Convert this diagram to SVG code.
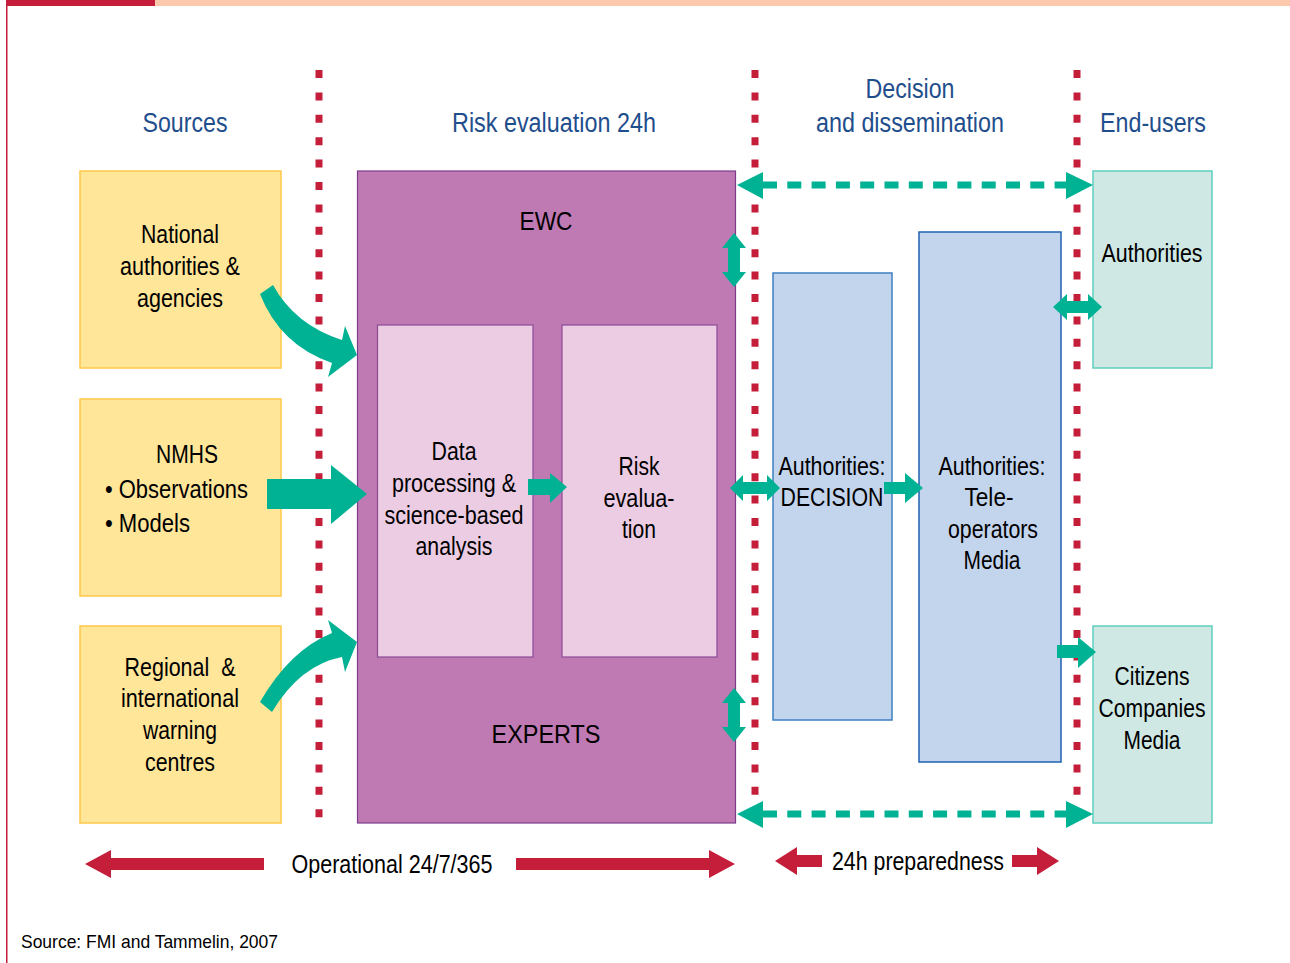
<svg xmlns="http://www.w3.org/2000/svg" width="1290" height="963" viewBox="0 0 1290 963">
<style>
text{font-family:"Liberation Sans",Arial,sans-serif;fill:#000;}
.h{font-size:27px;fill:#1F4E8C;text-anchor:middle;}
.t{font-size:26px;text-anchor:middle;}
.l{font-size:26px;}
.src{fill:#FFE699;stroke:#FFC84A;stroke-width:1.5;}
.dot{stroke:#C41E3A;stroke-width:7;stroke-dasharray:8 14.4;fill:none;}
.tl{fill:#00B294;}
.rd{fill:#C41E3A;}
.dash{stroke:#00B294;stroke-width:7;stroke-dasharray:14 10.3;fill:none;}
</style>
<rect x="0" y="0" width="1290" height="963" fill="#fff"/>
<rect x="6" y="0" width="149" height="6" fill="#C41E3A"/>
<rect x="155" y="0" width="1135" height="6" fill="#FDC9AC"/>
<rect x="6" y="0" width="1.5" height="963" fill="#C41E3A"/>

<g id="dividers">
<line class="dot" x1="319" y1="70" x2="319" y2="826"/>
<line class="dot" x1="755" y1="70" x2="755" y2="826"/>
<line class="dot" x1="1077" y1="70" x2="1077" y2="826"/>
</g>

<g id="headers">
<text class="h" x="185" y="132" textLength="85" lengthAdjust="spacingAndGlyphs">Sources</text>
<text class="h" x="554" y="132" textLength="204" lengthAdjust="spacingAndGlyphs">Risk evaluation 24h</text>
<text class="h" x="910" y="98" textLength="89" lengthAdjust="spacingAndGlyphs">Decision</text>
<text class="h" x="910" y="132" textLength="188" lengthAdjust="spacingAndGlyphs">and dissemination</text>
<text class="h" x="1153" y="132" textLength="106" lengthAdjust="spacingAndGlyphs">End-users</text>
</g>

<g id="src1">
<rect class="src" x="80" y="171" width="201" height="197"/>
<text class="t" x="180" y="243" textLength="78" lengthAdjust="spacingAndGlyphs">National</text>
<text class="t" x="180" y="275" textLength="120" lengthAdjust="spacingAndGlyphs">authorities &amp;</text>
<text class="t" x="180" y="307" textLength="86" lengthAdjust="spacingAndGlyphs">agencies</text>
</g>
<g id="src2">
<rect class="src" x="80" y="399" width="201" height="197"/>
<text class="t" x="187" y="463" textLength="62" lengthAdjust="spacingAndGlyphs">NMHS</text>
<text class="l" x="105" y="498" textLength="143" lengthAdjust="spacingAndGlyphs">• Observations</text>
<text class="l" x="105" y="532" textLength="85" lengthAdjust="spacingAndGlyphs">• Models</text>
</g>
<g id="src3">
<rect class="src" x="80" y="626" width="201" height="197"/>
<text class="t" x="180" y="676" textLength="111" lengthAdjust="spacingAndGlyphs">Regional&#160; &amp;</text>
<text class="t" x="180" y="707" textLength="118" lengthAdjust="spacingAndGlyphs">international</text>
<text class="t" x="180" y="739" textLength="74" lengthAdjust="spacingAndGlyphs">warning</text>
<text class="t" x="180" y="771" textLength="70" lengthAdjust="spacingAndGlyphs">centres</text>
</g>

<g id="ewc">
<rect x="357.5" y="171" width="378" height="652" fill="#C07AB3" stroke="#7C3A8A" stroke-width="1.2"/>
<text class="t" x="546" y="230" textLength="53" lengthAdjust="spacingAndGlyphs">EWC</text>
<text class="t" x="546" y="743" textLength="109" lengthAdjust="spacingAndGlyphs">EXPERTS</text>
</g>
<g id="data">
<rect x="377.5" y="325" width="155.5" height="332" fill="#EBCCE3" stroke="#8A4A96" stroke-width="1.2"/>
<text class="t" x="454" y="460" textLength="45" lengthAdjust="spacingAndGlyphs">Data</text>
<text class="t" x="454" y="492" textLength="124" lengthAdjust="spacingAndGlyphs">processing &amp;</text>
<text class="t" x="454" y="524" textLength="139" lengthAdjust="spacingAndGlyphs">science-based</text>
<text class="t" x="454" y="555" textLength="77" lengthAdjust="spacingAndGlyphs">analysis</text>
</g>
<g id="riskeval">
<rect x="562" y="325" width="155" height="332" fill="#EBCCE3" stroke="#8A4A96" stroke-width="1.2"/>
<text class="t" x="639" y="475" textLength="41" lengthAdjust="spacingAndGlyphs">Risk</text>
<text class="t" x="639" y="507" textLength="71" lengthAdjust="spacingAndGlyphs">evalua-</text>
<text class="t" x="639" y="538" textLength="34" lengthAdjust="spacingAndGlyphs">tion</text>
</g>

<g id="decision">
<rect x="773" y="273" width="119" height="447" fill="#C3D4ED" stroke="#3E7FC1" stroke-width="1.5"/>
<text class="t" x="832" y="475" textLength="107" lengthAdjust="spacingAndGlyphs">Authorities:</text>
<text class="t" x="832" y="506" textLength="103" lengthAdjust="spacingAndGlyphs">DECISION</text>
</g>
<g id="teleop">
<rect x="919" y="232" width="142" height="530" fill="#C3D4ED" stroke="#1F63B0" stroke-width="1.5"/>
<text class="t" x="992" y="475" textLength="107" lengthAdjust="spacingAndGlyphs">Authorities:</text>
<text class="t" x="989" y="506" textLength="49" lengthAdjust="spacingAndGlyphs">Tele-</text>
<text class="t" x="993" y="538" textLength="90" lengthAdjust="spacingAndGlyphs">operators</text>
<text class="t" x="992" y="569" textLength="57" lengthAdjust="spacingAndGlyphs">Media</text>
</g>

<g id="authorities">
<rect x="1093" y="171" width="119" height="197" fill="#CFE8E4" stroke="#5FD0BE" stroke-width="1.5"/>
<text class="t" x="1152" y="262" textLength="101" lengthAdjust="spacingAndGlyphs">Authorities</text>
</g>
<g id="citizens">
<rect x="1093" y="626" width="119" height="197" fill="#CFE8E4" stroke="#5FD0BE" stroke-width="1.5"/>
<text class="t" x="1152" y="685" textLength="75" lengthAdjust="spacingAndGlyphs">Citizens</text>
<text class="t" x="1152" y="717" textLength="107" lengthAdjust="spacingAndGlyphs">Companies</text>
<text class="t" x="1152" y="749" textLength="57" lengthAdjust="spacingAndGlyphs">Media</text>
</g>

<g id="connectors">
<path class="tl" d="M273,285 Q295,325 342,340 L345,326 L357,355 L328,377 L332,363 Q280,345 260,294 Z"/>
<path class="tl" d="M260,702 Q290,650 332,633 L328,620 L357,642 L345,672 L342,657 Q300,665 272,712 Z"/>
<path class="tl" d="M267,479 H331 V465 L367,494 L331,524 V509 H267 Z"/>
<path class="tl" d="M528,479 H550 V473 L567,487 L550,503 V495 H528 Z"/>
<path class="tl" d="M734,233 L746,248 H740 V272 H746 L734,287 L722,272 H728 V248 H722 Z"/>
<path class="tl" d="M734,688 L746,703 H740 V727 H746 L734,742 L722,727 H728 V703 H722 Z"/>
<path class="tl" d="M730,488 L743,475 V482 H767 V475 L780,488 L767,501 V494 H743 V501 Z"/>
<path class="tl" d="M884,482 H905 V473 L923,488 L905,503 V494 H884 Z"/>
<path class="tl" d="M1053,307 L1067,294 V301 H1088 V294 L1102,307 L1088,320 V313 H1067 V320 Z"/>
<path class="tl" d="M1057,645 H1078 V637 L1096,652 L1078,668 V658 H1057 Z"/>
<line class="dash" x1="763" y1="185" x2="1068" y2="185"/>
<path class="tl" d="M737,185 L763,172 V199 Z"/>
<path class="tl" d="M1093,185 L1066,172 V199 Z"/>
<line class="dash" x1="763" y1="814" x2="1068" y2="814"/>
<path class="tl" d="M737,814 L763,801 V828 Z"/>
<path class="tl" d="M1093,814 L1066,801 V828 Z"/>
<path class="rd" d="M85,864 L111,850 V858 H264 V870 H111 V878 Z"/>
<path class="rd" d="M735,864 L709,850 V858 H516 V870 H709 V878 Z"/>
<path class="rd" d="M775,861 L797,847 V855 H822 V867 H797 V875 Z"/>
<path class="rd" d="M1059,861 L1037,847 V855 H1012 V867 H1037 V875 Z"/>
</g>

<g id="footer">
<text class="t" x="392" y="873" textLength="201" lengthAdjust="spacingAndGlyphs">Operational 24/7/365</text>
<text class="t" x="918" y="870" textLength="172" lengthAdjust="spacingAndGlyphs">24h preparedness</text>
<text x="21" y="948" style="font-size:19px" textLength="257" lengthAdjust="spacingAndGlyphs">Source: FMI and Tammelin, 2007</text>
</g>
</svg>
